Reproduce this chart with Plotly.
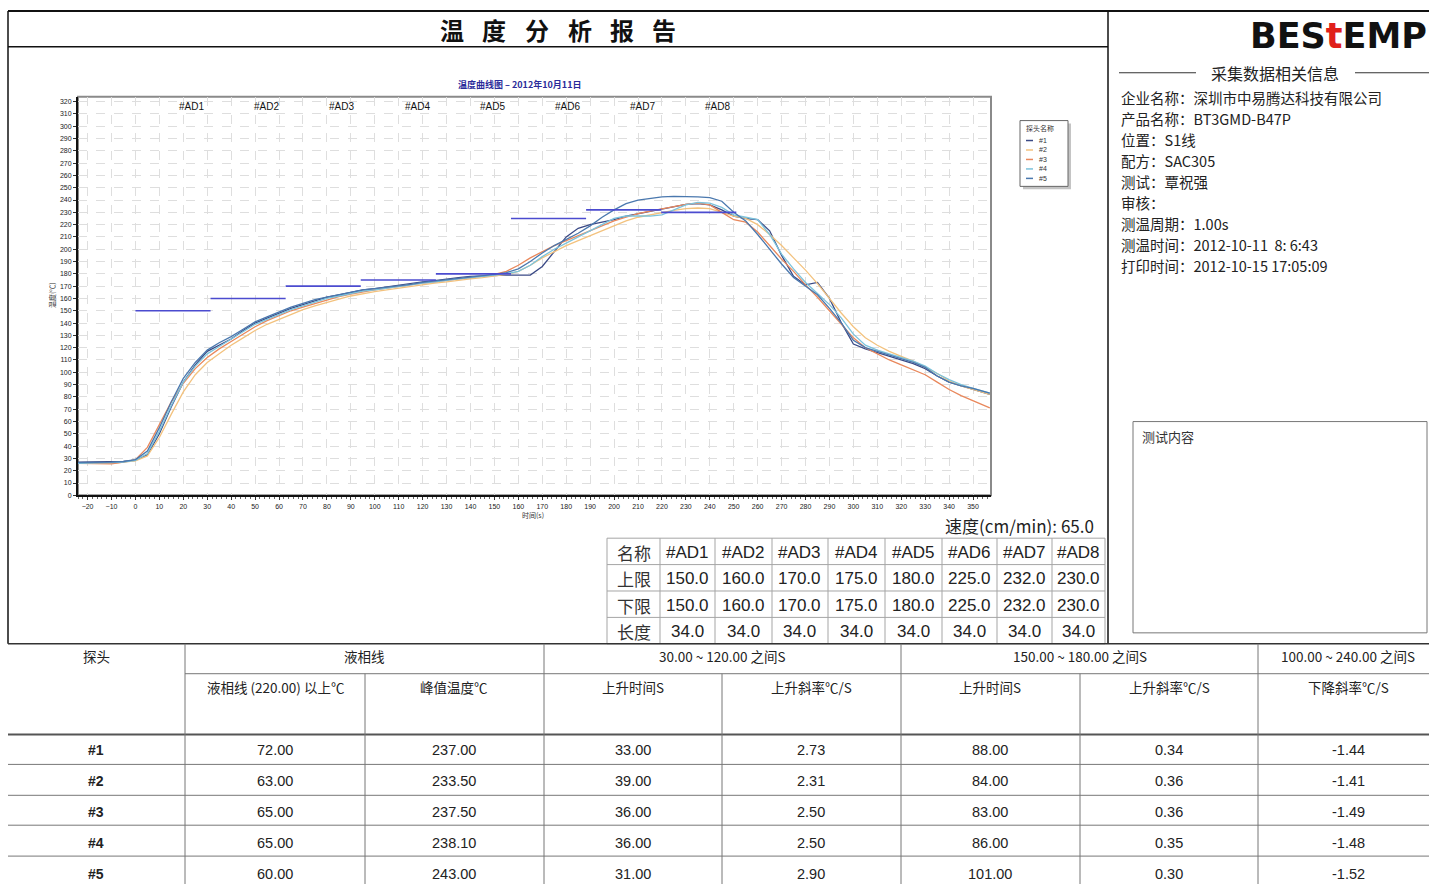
import plotly.graph_objects as go

W, H = 1429, 887

# ---------------- data ----------------
times = [-24, -20, -15, -10, -5,
         0, 5, 10, 15, 20, 25, 30, 35, 40, 45,
         50, 55, 60, 65, 70, 75, 80, 85, 90, 95,
         100, 105, 110, 115, 120, 125, 130, 135, 140, 145,
         150, 155, 160, 165, 170, 175, 180, 185, 190, 195,
         200, 205, 210, 215, 220, 225, 230, 235, 240, 245,
         250, 255, 260, 265, 270, 275, 280, 285, 290, 295,
         300, 305, 310, 315, 320, 325, 330, 335, 340, 345,
         350, 355, 357]

probe_1 = [27, 27, 27, 27, 27.5,
           28.5, 33, 50, 72, 92, 106, 117, 122, 127, 134,
           140, 144, 148, 152, 155, 158, 161, 163, 165, 167,
           168, 169.5, 171, 172, 173.5, 174.5, 176, 177, 178, 178.5,
           179, 179, 179, 179, 186, 198, 210, 217, 220, 222,
           224, 227, 229, 231, 233, 235, 236.5, 237, 236, 232,
           227, 225, 224, 215, 195, 178, 171, 173, 160, 140,
           123, 119, 116, 113, 110, 107, 103, 97, 92, 89,
           86, 83, 82]
probe_2 = [26, 26, 26, 26, 27,
           28, 32, 47, 66, 84, 98, 108, 115, 122, 128,
           134, 139, 143, 147, 151, 154, 157, 159.5, 162, 164,
           165.5, 167, 168.5, 170, 171, 172.5, 173.5, 175, 176, 177,
           178, 179.5, 182, 187, 193, 198, 203, 207, 211, 215,
           219, 223, 226, 228, 230, 231.5, 233, 233.5, 233, 230,
           227, 225, 220, 212, 203, 193, 183, 172, 160, 148,
           137, 128, 122, 117, 113, 109, 104, 99, 93, 89,
           86, 83, 82]
probe_3 = [26, 26, 26, 25.5, 27,
           29, 39, 58, 76, 91, 103, 112, 119, 125, 131,
           137, 142, 146, 150, 153, 156, 159, 161.5, 163.5, 165.5,
           167, 168.5, 170, 171, 172.5, 173.5, 175, 176, 177, 178,
           179.5, 182, 187, 193, 198, 203, 207, 211, 215, 219,
           223, 226, 229, 231, 233, 235, 236.5, 237.5, 236, 230,
           224, 222, 214, 203, 192, 182, 171, 161, 150, 139,
           128, 120, 115, 110, 106, 102, 98, 92, 86, 81,
           77, 73, 71]
probe_4 = [26, 26, 26, 26.5, 27,
           28.5, 34, 52, 73, 92, 105, 115, 121, 127, 133,
           139, 143, 147, 151, 154, 157, 160, 162, 164, 166,
           167, 168.5, 170, 171, 172.5, 173.5, 175, 176, 177, 178,
           179, 180, 182, 187, 194, 200, 205, 210, 215, 220,
           225, 227, 227, 227, 228, 232, 236, 238, 237.5, 234,
           228, 226, 224, 212, 196, 184, 173, 164, 155, 144,
           131, 122, 118, 115, 112, 109, 105, 99, 94, 90,
           87, 84, 83]
probe_5 = [26.5, 26.5, 26.5, 27, 27.5,
           29, 36, 55, 76, 95, 108, 118, 124, 129, 135,
           141, 145, 149, 153, 156, 159, 161, 163, 165, 167,
           168, 169, 170.5, 171.5, 173, 174, 175.5, 176.5, 177.5, 178.5,
           179.5, 181, 184, 190, 197, 203, 208, 213, 219, 226,
           232, 237, 240, 241.5, 242.5, 243, 243, 242.5, 242, 239,
           230, 223, 212, 200, 188, 177, 170, 163, 152, 140,
           126, 120, 117, 114, 111, 108, 104, 97, 92, 89,
           87, 84, 83]

probe_names = ["#1", "#2", "#3", "#4", "#5"]
probe_series = [probe_1, probe_2, probe_3, probe_4, probe_5]
probe_colors = ["#3b4a86", "#f3c27e", "#e9885c", "#7cc3dc", "#4a78ae"]

zone_names = ["#AD1", "#AD2", "#AD3", "#AD4", "#AD5", "#AD6", "#AD7", "#AD8"]
zone_upper = [150.0, 160.0, 170.0, 175.0, 180.0, 225.0, 232.0, 230.0]
zone_lower = [150.0, 160.0, 170.0, 175.0, 180.0, 225.0, 232.0, 230.0]
zone_length = [34.0, 34.0, 34.0, 34.0, 34.0, 34.0, 34.0, 34.0]
conveyor_speed = 65.0

info_rows = [
    ("企业名称：", "深圳市中易腾达科技有限公司"),
    ("产品名称：", "BT3GMD-B47P"),
    ("位置：", "S1线"),
    ("配方：", "SAC305"),
    ("测试：", "覃祝强"),
    ("审核：", ""),
    ("测温周期：", "1.00s"),
    ("测温时间：", "2012-10-11  8: 6:43"),
    ("打印时间：", "2012-10-15 17:05:09"),
]

group_headers = ["探头", "液相线", "30.00 ~ 120.00 之间S", "150.00 ~ 180.00 之间S", "100.00 ~ 240.00 之间S"]
sub_headers = ["液相线 (220.00) 以上℃", "峰值温度℃", "上升时间S", "上升斜率℃/S", "上升时间S", "上升斜率℃/S", "下降斜率℃/S"]
above_liquidus = ["72.00", "63.00", "65.00", "65.00", "60.00"]
peak_temp = ["237.00", "233.50", "237.50", "238.10", "243.00"]
rise_time_1 = ["33.00", "39.00", "36.00", "36.00", "31.00"]
rise_slope_1 = ["2.73", "2.31", "2.50", "2.50", "2.90"]
rise_time_2 = ["88.00", "84.00", "83.00", "86.00", "101.00"]
rise_slope_2 = ["0.34", "0.36", "0.36", "0.35", "0.30"]
fall_slope = ["-1.44", "-1.41", "-1.49", "-1.48", "-1.52"]

# ---------------- helpers ----------------
def X(p):
    return p / W


def Y(p):
    return 1 - p / H


CJK = "Noto Sans CJK SC"
LAT = "Liberation Sans, Arial"
annotations = []
shapes = []


def txt(x, y, text, size=14, family=CJK, color="#222", xanchor="center", yanchor="middle", **kw):
    annotations.append(dict(x=X(x), y=Y(y), xref="paper", yref="paper", text=text, showarrow=False,
                            font=dict(size=size, family=family, color=color),
                            xanchor=xanchor, yanchor=yanchor, **kw))


def line(x0, y0, x1, y1, color="#222", width=1):
    shapes.append(dict(type="line", xref="paper", yref="paper", x0=X(x0), y0=Y(y0), x1=X(x1), y1=Y(y1),
                       line=dict(color=color, width=width)))


def rect(x0, y0, x1, y1, color="#555", width=1, fill=None, layer="above"):
    d = dict(type="rect", xref="paper", yref="paper", x0=X(x0), y0=Y(y0), x1=X(x1), y1=Y(y1),
             line=dict(color=color, width=width), layer=layer)
    if fill:
        d["fillcolor"] = fill
    shapes.append(d)


# ---------------- figure ----------------
fig = go.Figure()

for name, vals, col in zip(probe_names, probe_series, probe_colors):
    fig.add_trace(go.Scatter(x=times, y=vals, mode="lines", name=name,
                             line=dict(color=col, width=1.3)))

start = 0.0
for zname, up, ln in zip(zone_names, zone_upper, zone_length):
    dur = ln / conveyor_speed * 60.0
    fig.add_trace(go.Scatter(x=[start, start + dur], y=[up, up], mode="lines",
                             line=dict(color="#4b4bcf", width=1.6), showlegend=False, hoverinfo="skip"))
    annotations.append(dict(x=start + dur - 1.8, y=316, xref="x", yref="y", text=zname, showarrow=False,
                            xanchor="right", yanchor="middle",
                            font=dict(size=10, family=LAT, color="#111")))
    start += dur

# plot frame (gray top/right)
shapes.append(dict(type="rect", xref="x domain", yref="y domain", x0=0, y0=0, x1=1, y1=1,
                   line=dict(color="#8a8a8a", width=2), layer="below"))

# chart title / axis titles
txt(519, 85, "<b>温度曲线图 – 2012年10月11日</b>", size=9, color="#2b2b9a")
txt(52, 296, "温度(℃)", size=7, color="#333", textangle=-90)
txt(533, 517, "时间(s)", size=7, color="#333")

# legend (drawn box in the report style)
rect(1023, 124, 1071, 190, "#c4c4c4", 0, fill="#c4c4c4")
rect(1020, 121, 1068, 187, "#666", 1, fill="white")
txt(1024, 128, "探头名称", size=7, color="#333", xanchor="left")
for i, (name, col) in enumerate(zip(probe_names, probe_colors)):
    ly = 141 + i * 9.5
    line(1026, ly, 1033, ly, col, 1.5)
    txt(1037, ly, name, size=7, family=LAT, color="#333", xanchor="left")

# page frame
line(8, 11, 1429, 11, "#111", 2)
line(8, 11, 8, 646, "#111", 1.5)
line(8, 47, 1108, 47, "#111", 1.5)
line(1108, 11, 1108, 646, "#111", 1.5)

# report title
for ch, cx in zip("温度分析报告", [452, 494, 537, 580, 622, 664]):
    txt(cx, 30, "<b>" + ch + "</b>", size=24, color="#111")

# logo
txt(1429, 36, "<b>BES<span style='color:#e0201b'>t</span>EMP</b>", size=35,
    family="DejaVu Sans", color="#111", xanchor="right")

# info panel
line(1119, 73, 1196, 73, "#333", 1)
line(1355, 73, 1429, 73, "#333", 1)
txt(1275, 73, "采集数据相关信息", size=16, color="#222")
for i, (lab, val) in enumerate(info_rows):
    txt(1119, 98 + i * 21, lab + val, size=14.5, color="#222", xanchor="left")

# test content box
rect(1133, 423, 1427, 635, "#777", 1)
txt(1140, 438, "测试内容", size=13, color="#333", xanchor="left")

# speed label
txt(1096, 527, "速度(cm/min): " + f"{conveyor_speed:.1f}", size=17, color="#222", xanchor="right")

# zone table
t1_cols = [607, 660, 715, 772, 828, 885, 942, 997, 1052, 1105]
t1_rows = [540, 566.5, 593, 619.5, 646]
for cx in t1_cols:
    line(cx, t1_rows[0], cx, t1_rows[-1], "#a5a5a5", 1)
for ry in t1_rows:
    line(t1_cols[0], ry, t1_cols[-1], ry, "#a5a5a5", 1)
row_labels = ["名称", "上限", "下限", "长度"]
row_values = [zone_names,
              [f"{v:.1f}" for v in zone_upper],
              [f"{v:.1f}" for v in zone_lower],
              [f"{v:.1f}" for v in zone_length]]
for r, (lab, vals) in enumerate(zip(row_labels, row_values)):
    cy = (t1_rows[r] + t1_rows[r + 1]) / 2 + 1
    txt((t1_cols[0] + t1_cols[1]) / 2, cy, lab, size=17, color="#333")
    for c, v in enumerate(vals):
        txt((t1_cols[c + 1] + t1_cols[c + 2]) / 2, cy, v, size=17, family=LAT, color="#222")

# probe result table
line(8, 646, 1429, 646, "#333", 1.5)
line(185, 676, 1429, 676, "#777", 1)
line(8, 737, 1429, 737, "#555", 2)
for ry in [767, 798, 828, 859]:
    line(8, ry, 1429, ry, "#777", 1)
for cx in [185, 544, 901, 1258]:
    line(cx, 646, cx, 887, "#777", 1)
for cx in [365, 722, 1080]:
    line(cx, 676, cx, 887, "#777", 1)

group_centers = [96, 364, 722, 1080, 1348]
for gtext, gx in zip(group_headers, group_centers):
    txt(gx, 658, gtext, size=13.5, color="#222")
sub_centers = [275, 454, 633, 811, 990, 1169, 1348]
for stext, sx in zip(sub_headers, sub_centers):
    txt(sx, 689, stext, size=13.5, color="#222")

row_y = [753, 784, 815, 846, 877]
cols_data = [above_liquidus, peak_temp, rise_time_1, rise_slope_1, rise_time_2, rise_slope_2, fall_slope]
for i, pname in enumerate(probe_names):
    txt(96, row_y[i], "<b>" + pname + "</b>", size=14, family=LAT, color="#222")
    for col_vals, sx in zip(cols_data, sub_centers):
        txt(sx, row_y[i], col_vals[i], size=14.5, family=LAT, color="#222")

fig.update_layout(
    width=W, height=H,
    margin=dict(l=0, r=0, t=0, b=0),
    paper_bgcolor="white", plot_bgcolor="white",
    showlegend=False,
    xaxis=dict(domain=[X(78), X(991)], range=[-24, 357.5], tick0=0, dtick=10,
               showgrid=True, gridcolor="#dedede", griddash="dash", gridwidth=1,
               showline=True, linecolor="#111", linewidth=2, zeroline=False,
               ticks="outside", ticklen=3, tickcolor="#333",
               tickfont=dict(size=7, family=LAT, color="#222"),
               minor=dict(dtick=2, ticks="outside", ticklen=2, tickcolor="#666", showgrid=False)),
    yaxis=dict(domain=[Y(497), Y(97)], range=[0, 324], tick0=0, dtick=10,
               showgrid=True, gridcolor="#dedede", griddash="dash", gridwidth=1,
               showline=True, linecolor="#111", linewidth=2, zeroline=False,
               ticks="outside", ticklen=3, tickcolor="#333",
               tickfont=dict(size=7, family=LAT, color="#222")),
    annotations=annotations,
    shapes=shapes,
)

fig.write_html("out.html", config={"displayModeBar": False},
               post_script="document.body.style.margin='0';")
